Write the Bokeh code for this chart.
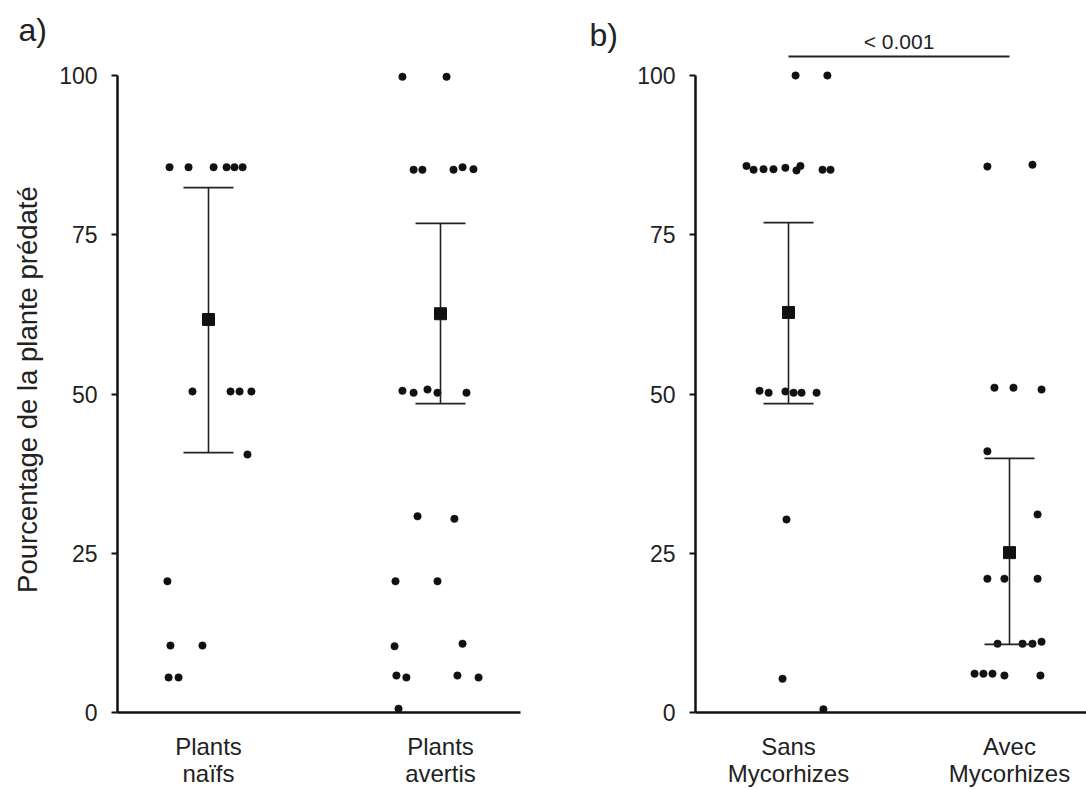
import math
from bokeh.plotting import figure
from bokeh.models import Range1d, FixedTicker, LinearAxis
from bokeh.core.properties import value
from bokeh.embed import file_html
from bokeh.resources import INLINE

FONT = "Liberation Sans"
TXT = "#222222"
INK = "#111111"

# ---------------- data ----------------
# panel a
a_labels = ["Plants\nnaïfs", "Plants\navertis"]
a1_y = [85.6, 85.6, 85.6, 85.6, 85.6, 85.6, 50.4, 50.4, 50.4, 50.4, 40.5, 20.6, 10.5, 10.5, 5.5, 5.5]
a1_dx = [-0.168, -0.086, 0.022, 0.078, 0.112, 0.147, -0.069, 0.095, 0.134, 0.185, 0.168, -0.177, -0.164, -0.026, -0.172, -0.129]
a2_y = [99.8, 99.8, 85.2, 85.2, 85.2, 85.6, 85.3, 50.5, 50.2, 50.7, 50.2, 50.2, 30.8, 30.4, 20.6, 20.6, 10.4, 10.8, 5.8, 5.5, 5.8, 5.5, 0.6]
a2_dx = [-0.164, 0.026, -0.116, -0.078, 0.056, 0.095, 0.142, -0.164, -0.116, -0.056, -0.013, 0.112, -0.099, 0.060, -0.194, -0.013, -0.198, 0.095, -0.190, -0.147, 0.073, 0.164, -0.181]
a_mean = [61.7, 62.6]
a_low = [40.8, 48.5]
a_high = [82.4, 76.8]

# panel b
b_labels = ["Sans\nMycorhizes", "Avec\nMycorhizes"]
b1_y = [100.0, 100.0, 85.8, 85.2, 85.3, 85.3, 85.5, 85.1, 85.8, 85.2, 85.2, 50.5, 50.2, 50.4, 50.2, 50.2, 50.2, 30.3, 5.3, 0.5]
b1_dx = [0.032, 0.176, -0.190, -0.158, -0.113, -0.068, -0.014, 0.036, 0.054, 0.154, 0.190, -0.131, -0.090, -0.014, 0.023, 0.059, 0.127, -0.009, -0.027, 0.158]
b2_y = [85.7, 86.0, 51.0, 51.0, 50.7, 41.0, 31.1, 21.0, 21.0, 21.0, 10.8, 10.8, 10.8, 11.1, 6.1, 6.1, 6.1, 5.8, 5.8]
b2_dx = [-0.100, 0.104, -0.068, 0.018, 0.145, -0.100, 0.127, -0.100, -0.023, 0.127, -0.054, 0.059, 0.104, 0.145, -0.158, -0.118, -0.077, -0.023, 0.140]
b_mean = [62.8, 25.1]
b_low = [48.5, 10.7]
b_high = [76.9, 39.9]
sig_text = "< 0.001"
sig_level = 103.0

y_ticks = [0, 25, 50, 75, 100]
y_title = "Pourcentage de la plante prédaté"

# ---------------- geometry ----------------
W, H = 1086, 789
K = 6.37                 # px per percent
ZERO_PX = 712            # canvas px (from top) of y = 0
PXA, PXB = 232, 221      # px per category step in panels a and b
CA, CB = 208, 788        # canvas px of category 1 in panels a and b

ya0 = -(H - ZERO_PX) / K
p = figure(width=W, height=H,
           x_range=Range1d(1 - CA / PXA, 1 - CA / PXA + W / PXA),
           y_range=Range1d(ya0, ya0 + H / K),
           x_axis_type=None, y_axis_type=None, title=None,
           min_border=0, output_backend="svg", toolbar_location=None)
p.extra_x_ranges = {"b": Range1d(1 - CB / PXB, 1 - CB / PXB + W / PXB)}
p.outline_line_color = None
p.background_fill_color = "white"
p.border_fill_color = "white"

# axis positions (category units of each panel)
a_left = 1 - 91 / PXA
a_right = 1 + 312 / PXA
b_left = 1 - 93 / PXB
b_right = 1 - CB / PXB + W / PXB


def add_y_axis(xloc, rname):
    ax = LinearAxis(fixed_location=xloc, ticker=FixedTicker(ticks=y_ticks), bounds=(0, 100))
    if rname:
        ax.x_range_name = rname
    ax.axis_line_width = 2.5
    ax.axis_line_color = INK
    ax.major_tick_line_width = 2
    ax.major_tick_line_color = INK
    ax.major_tick_out = 6
    ax.major_tick_in = 0
    ax.minor_tick_line_color = None
    ax.major_label_standoff = 14
    ax.major_label_text_font = FONT
    ax.major_label_text_font_size = "23px"
    ax.major_label_text_color = TXT
    p.add_layout(ax, "left")


def add_x_axis(bounds, labels, rname):
    ax = LinearAxis(fixed_location=0, ticker=FixedTicker(ticks=[1, 2]), bounds=bounds)
    if rname:
        ax.x_range_name = rname
    ax.major_label_overrides = {1: labels[0], 2: labels[1]}
    ax.axis_line_width = 2.5
    ax.axis_line_color = INK
    ax.major_tick_line_color = None
    ax.major_tick_out = 0
    ax.major_tick_in = 0
    ax.minor_tick_line_color = None
    ax.major_label_standoff = 20
    ax.major_label_text_font = FONT
    ax.major_label_text_font_size = "24px"
    ax.major_label_text_line_height = 1.03
    ax.major_label_text_color = TXT
    p.add_layout(ax, "below")


def draw_groups(ys, dxs, means, lows, highs, rname):
    kw = {"x_range_name": rname} if rname else {}
    for i, (gy, gdx) in enumerate(zip(ys, dxs)):
        xs = [i + 1 + d for d in gdx]
        p.scatter(xs, gy, size=7.5, marker="circle", fill_color=INK, line_color=INK, line_width=0.5, **kw)
    cx = [1, 2]
    p.segment(x0=cx, y0=lows, x1=cx, y1=highs, line_color="#222222", line_width=1.6, **kw)
    p.scatter(cx, lows, marker="dash", size=50, line_color="#222222", line_width=1.8, **kw)
    p.scatter(cx, highs, marker="dash", size=50, line_color="#222222", line_width=1.8, **kw)
    p.scatter(cx, means, marker="square", size=12, fill_color=INK, line_color=INK, **kw)


add_y_axis(a_left, None)
add_y_axis(b_left, "b")
add_x_axis((a_left, a_right), a_labels, None)
add_x_axis((b_left, b_right), b_labels, "b")

draw_groups([a1_y, a2_y], [a1_dx, a2_dx], a_mean, a_low, a_high, None)
draw_groups([b1_y, b2_y], [b1_dx, b2_dx], b_mean, b_low, b_high, "b")

# y title (rotated), panel letters, significance
p.text(x=[1 - 181 / PXA], y=[50.7], text=[y_title], angle=math.pi / 2,
       text_align="center", text_baseline="middle", text_font=value(FONT),
       text_font_size="27.5px", text_color=TXT)
p.text(x=[1 - 190 / PXA], y=[107.1], text=["a)"], text_align="left",
       text_baseline="middle", text_font=value(FONT), text_font_size="32px", text_color=TXT)
p.text(x=[1 - 199 / PXB], y=[106.3], text=["b)"], text_align="left",
       text_baseline="middle", text_font=value(FONT), text_font_size="32px", text_color=TXT,
       x_range_name="b")
p.segment(x0=[1.0], y0=[sig_level], x1=[2.0], y1=[sig_level], line_color="#222222",
          line_width=2, x_range_name="b")
p.text(x=[1.5], y=[sig_level + 2.4], text=[sig_text], text_align="center",
       text_baseline="middle", text_font=value(FONT), text_font_size="21px",
       text_color=TXT, x_range_name="b")

open("out.html", "w").write(file_html(p, INLINE))
